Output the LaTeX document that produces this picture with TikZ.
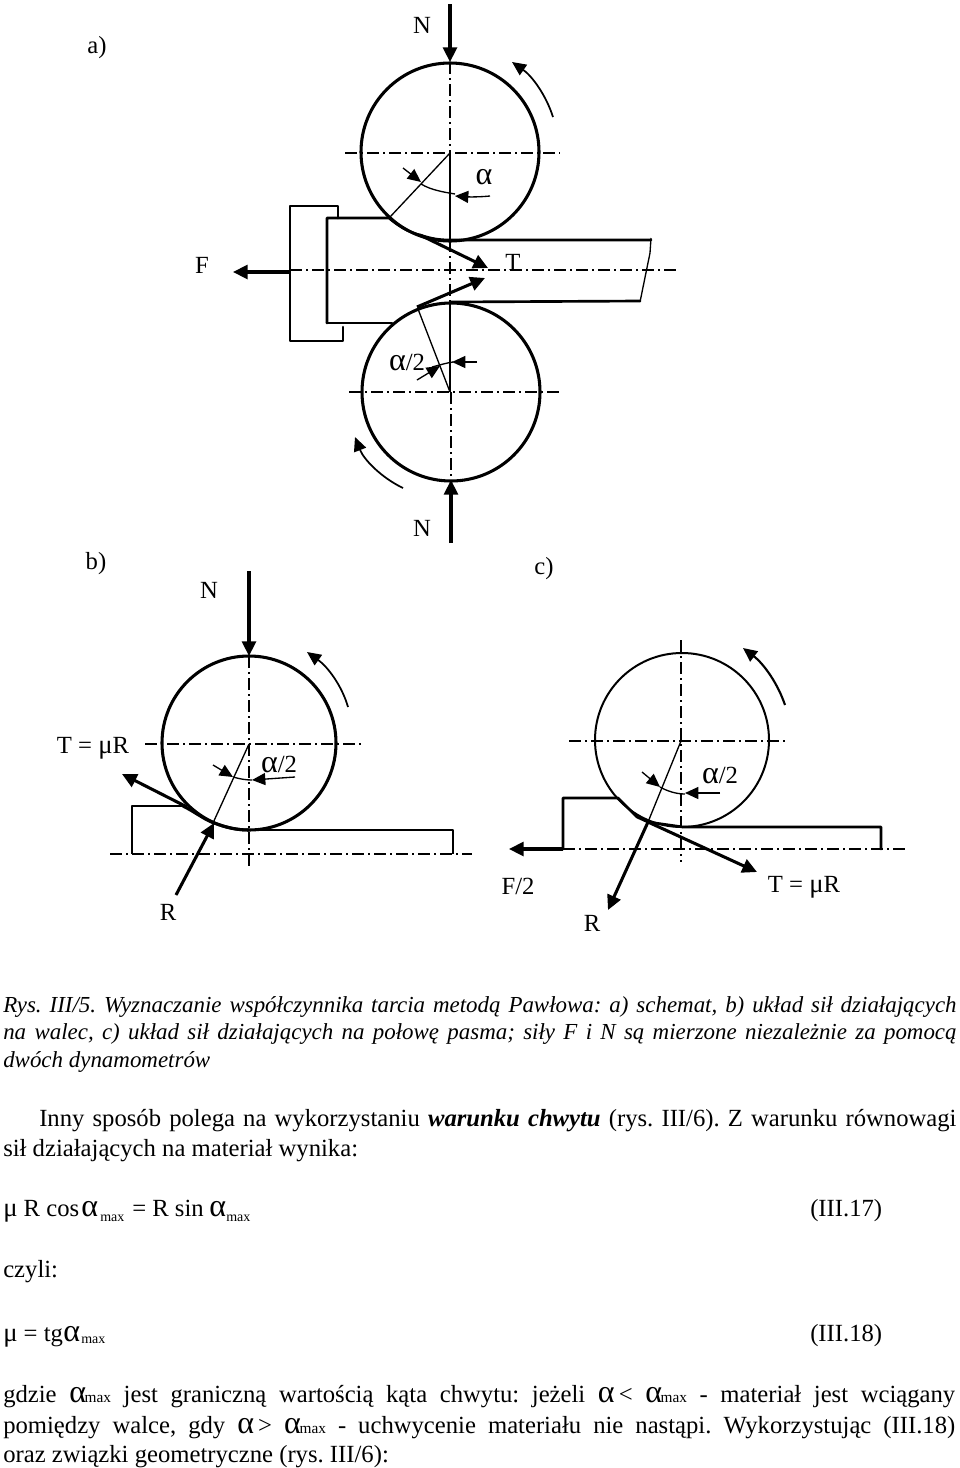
\documentclass[tikz,border=0pt]{standalone}
\usepackage{fontspec}
\setmainfont{Liberation Serif}
\usetikzlibrary{arrows.meta}
\frenchspacing
\newcommand{\jline}[2]{\hbox to #1pt{#2}}
\newcommand{\smx}{{\fontsize{10.5}{12}\selectfont max}}
\newcommand{\smy}{{\fontsize{11.5}{14}\selectfont max}}
\newcommand{\alf}{{\fontsize{24}{24}\selectfont α}}
\newcommand{\muu}{{\fontsize{20}{20}\selectfont μ}}
\tikzset{
 heavy/.style={line width=2.3pt,line cap=round,line join=round},
 contour/.style={line width=2pt,line cap=round,line join=round},
 medium/.style={line width=1.5pt,line join=round},
 fine/.style={line width=1pt},
 axisline/.style={line width=.8pt,dash pattern=on 9pt off 3pt on 1.5pt off 3pt},
 bigarrow/.style={line width=2.3pt,-{Triangle[length=11pt,width=10.5pt]}},
 thinarrow/.style={line width=1pt,-{Triangle[length=10pt,width=9pt]}},
 rotarrow/.style={line width=1.3pt,-{Triangle[length=10.5pt,width=9.5pt]}},
 lab/.style={inner sep=0pt,font=\fontsize{18.5}{20}\selectfont},
 body/.style={inner sep=0pt,anchor=base west,font=\fontsize{18.5}{20}\selectfont},
 capt/.style={inner sep=0pt,anchor=base west,font=\fontsize{17.2}{18}\selectfont\itshape},
}
\begin{document}
\begin{tikzpicture}[x=.75pt,y=-.75pt]
\useasboundingbox[fill=white] (0,0) rectangle (960,1468);

% ---------- a) ----------
\node[lab] (la) at (97,48) {a)};
\draw[heavy] (450,152) circle [radius=89];
\draw[heavy] (451,392) circle [radius=89];
\draw[axisline] (345,153) -- (560,153);
\draw[axisline] (349,392) -- (563,392);
\draw[axisline] (290,270) -- (677,270);
\draw[axisline] (450,62) -- (450,153);
\draw[axisline] (450,240) -- (450,302);
\draw[axisline] (451,392) -- (451,480);
\draw[fine] (450,153) -- (450,240);
\draw[fine] (450,302) -- (450,392);
\draw[fine] (450,153) -- (390,217);
\draw[fine] (450,392) -- (418,309);
% workpiece
\draw[contour] (327,323) -- (327,218) -- (389,218) .. controls (402,229) and (412,233) .. (420,235) .. controls (432,239) and (440,240) .. (450,240) -- (651,240);
\draw[medium,line width=1pt] (651,238) -- (650,253) -- (640,302);
\draw[contour] (450,302) -- (640,301);
\draw[contour] (327,323) -- (392,323);
\draw[contour] (343,327) -- (343,341) -- (290,341) -- (290,206) -- (338,206) -- (338,218);
% force arrows
\draw[bigarrow] (450,4) -- (450,62);
\draw[bigarrow] (451,543) -- (451,480);
\draw[bigarrow] (290,272) -- (233,272);
\draw[bigarrow] (420,235) -- (488,268);
\draw[bigarrow] (417,307) -- (485,278);
\draw[rotarrow] (553,117) .. controls (546,95) and (532,76) .. (512,62);
\draw[rotarrow] (403,488) .. controls (382,478) and (364,460) .. (355,437);
% angles
\draw[thinarrow] (403,168) -- (421,182);
\draw[fine] (421,184) .. controls (431,190) and (443,192) .. (455,194);
\draw[thinarrow] (490,196) .. controls (480,197) and (470,197) .. (455,196);
\draw[thinarrow] (417,380) -- (440,366);
\draw[fine] (432,367) .. controls (440,365) and (446,363) .. (453,362);
\draw[thinarrow] (477,362) -- (452,362);
\node[lab] (Na) at (422,25) {N};
\node[lab] (Nb) at (422,528) {N};
\node[lab] (Fa) at (202,265) {F};
\node[lab] (Ta) at (513,262) {T};
\node[lab] (aA) at (484,177) {\alf};
\node[lab] (aB) at (407,362) {\alf/2};

% ---------- b) ----------
\node[lab] (lb) at (96,564) {b)};
\draw[heavy] (249,743) circle [radius=87];
\draw[axisline] (145,744) -- (361,744);
\draw[axisline] (249,656) -- (249,867);
\draw[axisline] (110,854) -- (472,854);
\draw[medium,line width=1.1pt] (132,854) -- (132,806) -- (183,806);
\draw[medium,line width=1.1pt] (249,830) -- (453,830) -- (453,854);
\draw[heavy] (183,806) .. controls (195,812) and (205,820) .. (214,823) .. controls (228,828) and (238,830) .. (249,830);
\draw[fine] (249,744) -- (213,823);
\draw[bigarrow] (249,571) -- (249,656);
\draw[bigarrow] (187,807) -- (122,774);
\draw[bigarrow] (176,895) -- (214,823);
\draw[rotarrow] (348,707) .. controls (342,686) and (328,667) .. (307,652);
\draw[thinarrow] (213,765) -- (233,777);
\draw[fine] (233,777) .. controls (240,779) and (246,780) .. (252,780);
\draw[thinarrow] (295,777) -- (252,780);
\node[lab] (Nc) at (209,590) {N};
\node[lab] (Tb) at (93,748) {T = \muu R};
\node[lab] (Ra) at (168,912) {R};
\node[lab] (aC) at (279,764) {\alf/2};

% ---------- c) ----------
\node[lab] (lc) at (544,569) {c)};
\draw[medium] (682,740) circle [radius=87];
\draw[axisline] (569,741) -- (785,741);
\draw[axisline] (681,640) -- (681,862);
\draw[axisline] (563,849) -- (905,849);
\draw[contour] (563,849) -- (563,798) -- (618,798) -- (637,817) -- (648,822) -- (683,827) -- (881,827) -- (881,849);
\draw[fine] (681,741) -- (648,822);
\draw[bigarrow] (563,849) -- (509,849);
\draw[bigarrow] (648,822) -- (608,910);
\draw[bigarrow] (648,822) -- (757,872);
\draw[rotarrow,line width=1.6pt] (785,705) .. controls (778,684) and (764,664) .. (743,648);
\draw[thinarrow] (642,772) -- (660,787);
\draw[fine] (660,787) .. controls (667,791) and (676,794) .. (685,794);
\draw[thinarrow] (720,793) -- (685,793);
\node[lab] (Fb) at (518,886) {F/2};
\node[lab] (Rb) at (592,923) {R};
\node[lab] (Tc) at (804,887) {T = \muu R};
\node[lab] (aD) at (720,775) {\alf/2};

% ---------- text ----------
\node[capt] (t1) at (3,1012) {\jline{715}{Rys. III/5. Wyznaczanie współczynnika tarcia metodą Pawłowa: a) schemat, b) układ sił działających}};
\node[capt] (t2) at (3,1039) {\jline{715}{na walec, c) układ sił działających na połowę pasma; siły F i N są mierzone niezależnie za pomocą}};
\node[capt] (t3) at (3,1067) {dwóch dynamometrów};
\node[body] (t4) at (39,1126) {\jline{688}{Inny sposób polega na wykorzystaniu \textbf{\textit{warunku chwytu}} (rys. III/6). Z warunku równowagi}};
\node[body] (t5) at (3,1156) {sił działających na materiał wynika:};
\node[body] (f1) at (3,1216) {\muu\ R cos};
\node[body] (f2) at (81,1216) {\alf};
\node[body] (f3) at (100,1221) {\smx};
\node[body] (f4) at (132,1216) {= R sin};
\node[body] (f5) at (209,1216) {\alf};
\node[body] (f6) at (226,1221) {\smx};
\node[body] (n1) at (810,1216) {(III.17)};
\node[body] (t6) at (3,1277) {czyli:};
\node[body] (f7) at (3,1341) {\muu\ = tg};
\node[body] (f8) at (63,1341) {\alf};
\node[body] (f9) at (81,1343) {\smx};
\node[body] (n2) at (810,1341) {(III.18)};
\node[body] (t7) at (3,1402) {\jline{714}{gdzie {\alf}\kern-1pt\smy{} jest graniczną wartością kąta chwytu: jeżeli {\alf}\,< {\alf}\kern-1pt\smy{} - materiał jest wciągany}};
\node[body] (t8) at (3,1433) {\jline{714}{pomiędzy walce, gdy {\alf}\,> {\alf}\kern-1pt\smy{} - uchwycenie materiału nie nastąpi. Wykorzystując (III.18)}};
\node[body] (t9) at (3,1462) {oraz związki geometryczne (rys. III/6):};
\end{tikzpicture}
\end{document}
